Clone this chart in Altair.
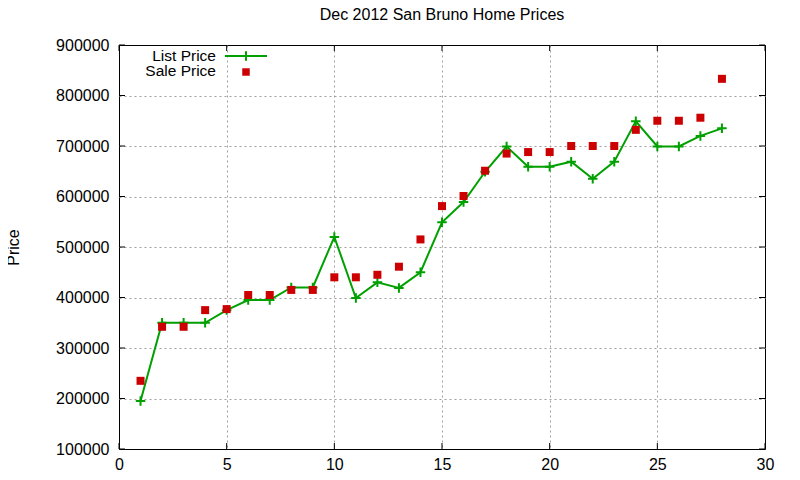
import altair as alt
import pandas as pd

days = list(range(1, 29))
list_price = [195000, 350000, 350000, 350000, 375000, 395000, 395000, 420000,
              420000, 520000, 399000, 430000, 419000, 450000, 549000, 589000,
              649000, 699000, 659000, 659000, 669000, 635000, 669000, 749000,
              699000, 699000, 720000, 735000]
sale_price = [235000, 342000, 342000, 375000, 377000, 405000, 405000, 415000,
              415000, 440000, 440000, 445000, 461000, 515000, 581000, 601000,
              651000, 685000, 688000, 688000, 700000, 700000, 700000, 732000,
              750000, 750000, 756000, 833000]
x_ticks = [0, 5, 10, 15, 20, 25, 30]
y_ticks = [100000, 200000, 300000, 400000, 500000, 600000, 700000, 800000, 900000]

FONT = "Liberation Sans"
GREEN = "#00a000"
RED = "#cc0000"
W, H = 646, 404

df = pd.DataFrame({"day": days, "list": list_price, "sale": sale_price})
xt = pd.DataFrame({"t": x_ticks})
yt = pd.DataFrame({"t": y_ticks})
one = pd.DataFrame({"a": [0]})

xscale = alt.Scale(domain=[0, 30], nice=False, zero=False)
yscale = alt.Scale(domain=[100000, 900000], nice=False, zero=False)

xaxis = alt.Axis(values=x_ticks, format="d", title=None, domain=False, ticks=False,
                 labelPadding=7, labelFont=FONT, labelFontSize=16, labelColor="black",
                 labelFlush=False, labelOverlap=False,
                 grid=True, gridColor="#a0a0a0", gridDash=[2, 3], gridWidth=1,
                 gridOpacity=alt.ExprRef(expr="datum.value == 0 || datum.value == 30 ? 0 : 1"))
yaxis = alt.Axis(values=y_ticks, format="d", title="Price", domain=False, ticks=False,
                 labelPadding=10, labelFont=FONT, labelFontSize=16, labelColor="black",
                 labelFlush=False, labelOverlap=False,
                 titleFont=FONT, titleFontSize=16, titleFontWeight="normal", titleColor="black",
                 titleX=-106, titleY=202, titleAngle=-90, titleAlign="center",
                 titleBaseline="middle",
                 grid=True, gridColor="#a0a0a0", gridDash=[2, 3], gridWidth=1,
                 gridOpacity=alt.ExprRef(expr="datum.value == 100000 || datum.value == 900000 ? 0 : 1"))

base = alt.Chart(df)

line = base.mark_line(color=GREEN, strokeWidth=2).encode(
    x=alt.X("day:Q", scale=xscale, axis=xaxis),
    y=alt.Y("list:Q", scale=yscale, axis=yaxis),
)
plus_shape = "M-1,0H1M0,-1V1"
plus = base.mark_point(shape=plus_shape, size=90, filled=False, color=GREEN,
                       strokeWidth=2, opacity=1).encode(
    x=alt.X("day:Q", scale=xscale),
    y=alt.Y("list:Q", scale=yscale),
)
squares = base.mark_square(size=64, color=RED, opacity=1).encode(
    x=alt.X("day:Q", scale=xscale),
    y=alt.Y("sale:Q", scale=yscale),
)

# inward ticks on all four sides (gnuplot style)
tb = alt.Chart(xt).mark_rule(color="black", strokeWidth=1).encode(
    x=alt.X("t:Q", scale=xscale), y=alt.value(H), y2=alt.value(H - 6))
tt = alt.Chart(xt).mark_rule(color="black", strokeWidth=1).encode(
    x=alt.X("t:Q", scale=xscale), y=alt.value(0), y2=alt.value(6))
tl = alt.Chart(yt).mark_rule(color="black", strokeWidth=1).encode(
    y=alt.Y("t:Q", scale=yscale), x=alt.value(0), x2=alt.value(6))
tr = alt.Chart(yt).mark_rule(color="black", strokeWidth=1).encode(
    y=alt.Y("t:Q", scale=yscale), x=alt.value(W - 6), x2=alt.value(W))

# legend (gnuplot style: label left, sample right)
leg_t1 = alt.Chart(one).mark_text(text="List Price", align="right", baseline="alphabetic",
                                  font=FONT, fontSize=15.5, color="black").encode(
    x=alt.value(97), y=alt.value(16))
leg_t2 = alt.Chart(one).mark_text(text="Sale Price", align="right", baseline="alphabetic",
                                  font=FONT, fontSize=15.5, color="black").encode(
    x=alt.value(97), y=alt.value(31))
leg_line = alt.Chart(one).mark_rule(color=GREEN, strokeWidth=2).encode(
    x=alt.value(106), x2=alt.value(148), y=alt.value(11))
leg_plus = alt.Chart(one).mark_point(shape=plus_shape, size=90, filled=False, color=GREEN,
                                     strokeWidth=2, opacity=1).encode(
    x=alt.value(127), y=alt.value(11))
leg_sq = alt.Chart(one).mark_square(size=56, color=RED, opacity=1).encode(
    x=alt.value(127), y=alt.value(27))

chart = alt.layer(line, plus, squares, tb, tt, tl, tr,
                  leg_t1, leg_t2, leg_line, leg_plus, leg_sq).properties(
    width=W, height=H,
    title=alt.TitleParams("Dec 2012 San Bruno Home Prices", font=FONT, fontSize=16,
                          fontWeight="normal", color="black", anchor="middle", offset=14),
    autosize=alt.AutoSizeParams(type="none"),
    padding={"left": 111, "top": 37, "right": 27, "bottom": 23},
    background="white",
).configure_view(stroke="black", strokeWidth=1)

chart.save("out.html", embed_options={"renderer": "svg", "actions": False})
